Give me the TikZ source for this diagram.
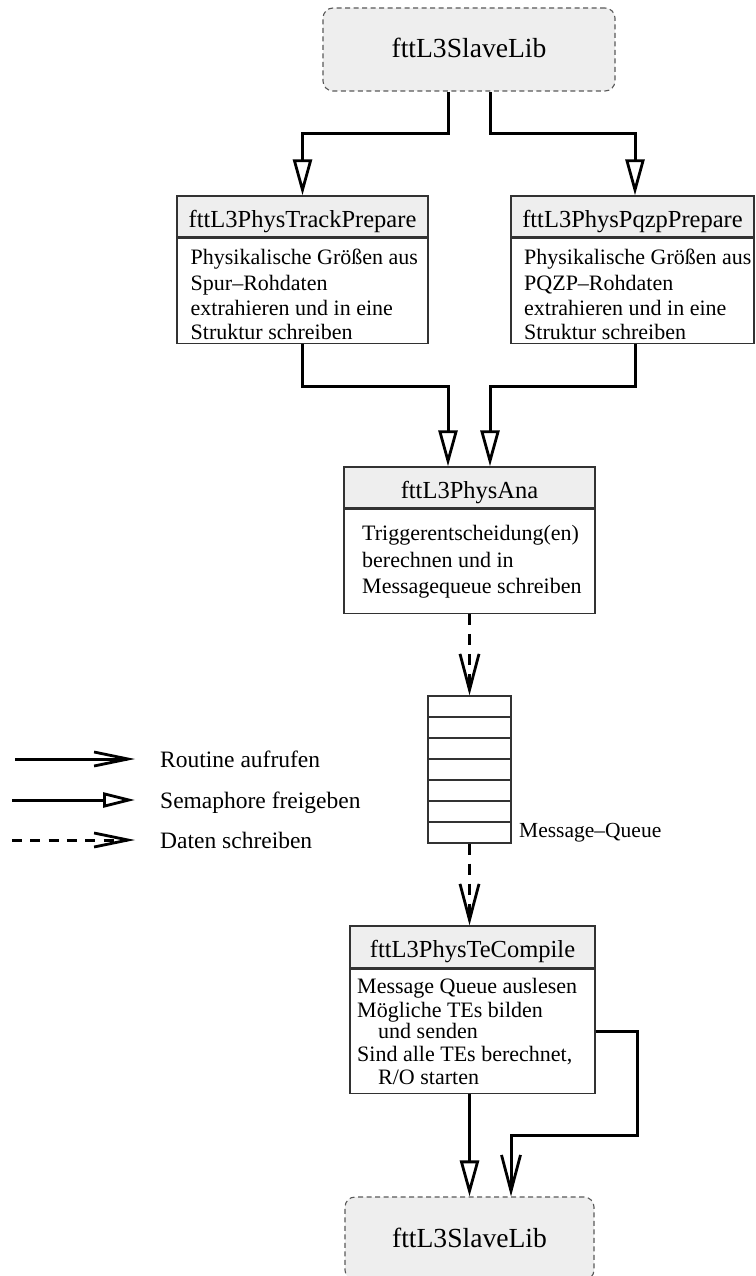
\documentclass[tikz,border=0pt]{standalone}
\usepackage{fontspec}
\setmainfont{Liberation Serif}
\usetikzlibrary{arrows.meta}
\definecolor{boxgray}{RGB}{238,238,238}
\definecolor{edgegray}{RGB}{50,50,50}
\begin{document}
\begin{tikzpicture}[x=1pt,y=-1pt,
  lib/.style={draw=black!65, dash pattern=on 5pt off 3.5pt, line width=1.1pt, rounded corners=10pt, fill=boxgray, minimum height=83pt, inner sep=0pt, text height=17pt, text depth=0pt, font=\fontsize{27.6}{30}\selectfont},
  title/.style={draw=edgegray, line width=1.3pt, fill=boxgray, minimum height=41pt, inner sep=0pt, text height=21pt, text depth=0pt, font=\fontsize{24.5}{28}\selectfont},
  body/.style={draw=edgegray, line width=1.3pt, fill=white, inner sep=0pt},
  txt/.style={anchor=base west, inner sep=0pt, font=\fontsize{22}{26}\selectfont},
  legtxt/.style={anchor=base west, inner sep=0pt, font=\fontsize{23.5}{26}\selectfont},
  sema/.style={line width=3pt, -{Triangle[open,length=36pt,width=19pt,line width=2.8pt]}},
  call/.style={line width=3pt, -{Straight Barb[length=36pt,width=19pt,line width=2.8pt]}},
  data/.style={call, dash pattern=on 11pt off 9pt},
  semaS/.style={line width=3pt, -{Triangle[open,length=32pt,width=15pt,line width=2.8pt]}},
  callS/.style={line width=3pt, -{Straight Barb[length=34pt,width=14pt,line width=2.8pt]}},
  dataS/.style={callS, dash pattern=on 10pt off 8.3pt},
]
\useasboundingbox (0,0) rectangle (755,1276);
\clip (0,0) rectangle (755,1276);

% top library
\node[lib, minimum width=292pt] (top) at (469,49.5) {fttL3SlaveLib};

% TrackPrepare
\node[title, minimum width=251pt] (trackT) at (302.5,216.5) {fttL3PhysTrackPrepare};
\node[body, minimum width=251pt, minimum height=105pt, anchor=north] (trackB) at (trackT.south) {};
\node[txt] (tr1) at (190.5,264) {Physikalische Größen aus};
\node[txt] (tr2) at (190.5,290) {Spur–Rohdaten};
\node[txt] (tr3) at (190.5,315) {extrahieren und in eine};
\node[txt] (tr4) at (190.5,339) {Struktur schreiben};

% PqzpPrepare
\node[title, minimum width=243pt] (pqzpT) at (632.5,216.5) {fttL3PhysPqzpPrepare};
\node[body, minimum width=243pt, minimum height=105pt, anchor=north] (pqzpB) at (pqzpT.south) {};
\node[txt] (pq1) at (524,264) {Physikalische Größen aus};
\node[txt] (pq2) at (524,290) {PQZP–Rohdaten};
\node[txt] (pq3) at (524,315) {extrahieren und in eine};
\node[txt] (pq4) at (524,339) {Struktur schreiben};

% PhysAna
\node[title, minimum width=251pt] (anaT) at (469.5,487.5) {fttL3PhysAna};
\node[body, minimum width=251pt, minimum height=104pt, anchor=north] (anaB) at (anaT.south) {};
\node[txt] (an1) at (362,540) {Triggerentscheidung(en)};
\node[txt] (an2) at (362,567) {berechnen und in};
\node[txt] (an3) at (362,593) {Messagequeue schreiben};

% Queue
\node[body, minimum width=83pt, minimum height=147pt] (queue) at (469.5,769.5) {};
\foreach \i in {1,...,6} \draw[edgegray, line width=1.2pt] (428,696+21*\i) -- (511,696+21*\i);
\node[anchor=base west, inner sep=0pt, font=\fontsize{21.5}{24}\selectfont] (qlab) at (519,837) {Message–Queue};

% TeCompile
\node[title, minimum width=245pt, minimum height=42pt] (teT) at (472.5,947) {fttL3PhysTeCompile};
\node[body, minimum width=245pt, minimum height=124pt, anchor=north] (teB) at (teT.south) {};
\node[txt] (te1) at (357,993) {Message Queue auslesen};
\node[txt] (te2) at (357,1017) {Mögliche TEs bilden};
\node[txt] (te3) at (378,1038) {und senden};
\node[txt] (te4) at (357,1061) {Sind alle TEs berechnet,};
\node[txt] (te5) at (378,1084) {R/O starten};

% bottom library
\node[lib, minimum width=249pt] (bot) at (469.5,1238.5) {fttL3SlaveLib};

% connectors
\draw[sema] ([xshift=-21pt]top.south) -- ++(0,42) -| (trackT.north);
\draw[sema] ([xshift=21pt]top.south) -- ++(0,42) -| ([xshift=2.5pt]pqzpT.north);
\draw[sema] (trackB.south) -- ++(0,43) -| ([xshift=-21.5pt]anaT.north);
\draw[sema] ([xshift=2.5pt]pqzpB.south) -- ++(0,43) -| ([xshift=20.5pt]anaT.north);
\draw[data] (anaB.south) -- (queue.north);
\draw[data] (queue.south) -- (queue.south |- teT.north);
\draw[sema] (teB.south -| bot.north) -- (bot.north);
\draw[call] (teB.east) -- ++(42,0) -- ++(0,104) -| ([xshift=41.5pt]bot.north);

% legend
\coordinate (l1a) at (15,759);  \coordinate (l1b) at (135,759);
\coordinate (l2a) at (12,800);  \coordinate (l2b) at (135,800);
\coordinate (l3a) at (12,840);  \coordinate (l3b) at (135,840);
\draw[callS] (l1a) -- (l1b);
\draw[semaS] (l2a) -- (l2b);
\draw[dataS] (l3a) -- (l3b);
\node[legtxt] (lt1) at (160,767) {Routine aufrufen};
\node[legtxt] (lt2) at (160,808) {Semaphore freigeben};
\node[legtxt] (lt3) at (160,848) {Daten schreiben};
\end{tikzpicture}
\end{document}
